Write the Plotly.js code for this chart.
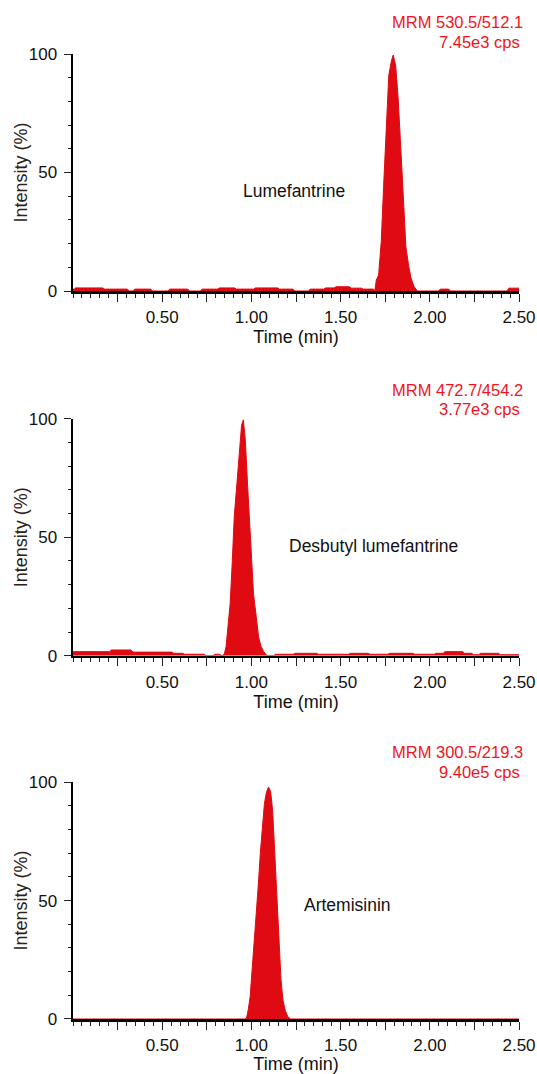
<!DOCTYPE html>
<html>
<head>
<meta charset="utf-8">
<script src="https://cdn.plot.ly/plotly-3.0.1.min.js"></script>
<style>html,body{margin:0;padding:0;background:#fff;}#chart{width:537px;height:1074px;}</style>
</head>
<body>
<div id="chart"></div>
<script>
// ---- Data (time in min, intensity in %) ----
var lumeTime = [0.000,0.012,0.013,0.167,0.177,0.305,0.315,0.336,0.346,0.436,0.446,0.532,0.542,0.643,0.653,0.714,0.724,
  0.810,0.820,0.906,0.916,1.012,1.022,1.147,1.156,1.233,1.243,1.320,1.330,1.406,1.416,1.464,1.474,1.550,1.560,1.617,1.627,1.684,1.692,
  1.700,1.713,1.728,1.741,1.757,1.770,1.784,1.795,1.809,1.822,1.838,1.853,1.866,1.882,1.895,1.910,1.930,
  2.049,2.059,2.106,2.116,2.433,2.443,2.500];
var lumeInt = [0.8,0.8,1.3,1.3,0.8,0.8,0,0,0.8,0.8,0,0,0.8,0.8,0,0,0.8,
  0.8,1.3,1.3,0.8,0.8,1.3,1.3,0.8,0.8,0,0,0.8,0.8,1.3,1.3,1.8,1.8,1.2,1.2,0.8,0.8,0,
  4.6,6.7,21,44,69,91,96.8,99.6,95,82,59.5,35.6,18.7,10.3,5.4,2.1,0,
  0,0.8,0.8,0,0,1.2,1.2];

var desTime = [0.000,0.205,0.215,0.325,0.335,0.555,0.565,0.615,0.625,0.735,0.745,0.785,0.795,0.815,0.840,
  0.849,0.858,0.868,0.881,0.893,0.904,0.916,0.926,0.935,0.945,0.955,0.966,0.978,0.989,1.003,1.012,1.027,1.040,1.054,1.069,1.088,
  1.125,1.135,1.235,1.245,1.365,1.375,1.545,1.555,1.655,1.665,1.765,1.775,1.905,1.915,2.025,2.035,2.075,2.085,2.185,2.195,2.235,2.245,2.275,2.285,2.385,2.395,2.500];
var desInt = [1.7,1.7,2.4,2.4,1.5,1.5,1.0,1.0,0.6,0.6,0,0,0.6,0.6,0,
  1.0,3.8,12,22,40,59,70,80,90,97.5,99.6,91,73,56,37.6,26,16.5,8,3.8,1.7,0,
  0,0.6,0.6,1.0,1.0,0.6,0.6,1.0,1.0,0.6,0.6,1.0,1.0,0.6,0.6,1.0,1.0,1.7,1.7,1.0,1.0,0.4,0.4,1.0,1.0,0.4,0.4];

var artTime = [0.000,0.965,0.973,0.982,0.993,1.004,1.016,1.027,1.039,1.050,1.062,1.073,1.085,1.096,1.108,1.119,1.131,1.143,1.154,1.166,1.177,1.189,1.204,1.220,2.500];
var artInt  = [0,0,0.5,3.8,9.4,20.7,30.6,44.6,57,70,81,91,96,98,96,88,70,50,30.6,16.5,8,3.8,1,0,0];

var compoundNames = ['Lumefantrine','Desbutyl lumefantrine','Artemisinin'];
var mrmLabels = ['MRM 530.5/512.1','MRM 472.7/454.2','MRM 300.5/219.3'];
var cpsLabels = ['7.45e3 cps','3.77e3 cps','9.40e5 cps'];
var xTickVals = [0.25,0.50,0.75,1.00,1.25,1.50,1.75,2.00,2.25,2.50];
var xTickText = ['','0.50','','1.00','','1.50','','2.00','','2.50'];
var yTickVals = [0,50,100];
var yTickText = ['0','50','100'];
var xTitle = 'Time (min)';
var yTitle = 'Intensity (%)';

// ---- Styling ----
var RED = '#e00a12';
var TXTRED = '#f0141e';
var FONT = 'Liberation Sans, Arial, sans-serif';

function trace(x, y, xa, ya) {
  return {x: x, y: y, xaxis: xa, yaxis: ya, type: 'scatter', mode: 'lines',
    line: {color: RED, width: 1, shape: 'linear'}, fill: 'tozeroy', fillcolor: RED,
    hoverinfo: 'skip', showlegend: false};
}
var data = [
  trace(lumeTime, lumeInt, 'x', 'y'),
  trace(desTime, desInt, 'x2', 'y2'),
  trace(artTime, artInt, 'x3', 'y3')
];

function xaxis(anchor) {
  return {anchor: anchor, range: [0, 2.5], tickmode: 'array', tickvals: xTickVals, ticktext: xTickText,
    ticks: 'outside', ticklen: 8, tickwidth: 1, tickcolor: '#222',
    minor: {tickmode: 'linear', tick0: 0, dtick: 0.05, ticks: 'outside', ticklen: 4, tickwidth: 1, tickcolor: '#222', showgrid: false},
    showline: true, linecolor: '#000', linewidth: 2.5, showgrid: false, zeroline: false,
    tickfont: {family: FONT, size: 17, color: '#111'}, ticklabelstandoff: 1,
    title: {text: xTitle, font: {family: FONT, size: 18, color: '#111'}, standoff: 3},
    automargin: false, fixedrange: true};
}
function yaxis(anchor, domain) {
  return {anchor: anchor, domain: domain, range: [0, 100], tickmode: 'array', tickvals: yTickVals, ticktext: yTickText,
    ticks: 'outside', ticklen: 7, tickwidth: 1, tickcolor: '#222',
    minor: {tickmode: 'linear', tick0: 0, dtick: 10, ticks: 'outside', ticklen: 3, tickwidth: 1, tickcolor: '#222', showgrid: false},
    showline: true, linecolor: '#000', linewidth: 2.5, showgrid: false, zeroline: false,
    tickfont: {family: FONT, size: 17, color: '#111'}, ticklabelstandoff: 3,
    automargin: false, fixedrange: true};
}

var annotations = [];
var nameX = [1.237, 1.682, 1.538];
var nameY = [42.2, 46.3, 48.2];
var mrmY = [1.033, 0.6518, 0.2767];
var cpsY = [1.0124, 0.6321, 0.2560];
var yCenter = [0.8772, 0.4992, 0.1227];
var yrefs = ['y', 'y2', 'y3'];
var xrefs = ['x', 'x2', 'x3'];
for (var i = 0; i < 3; i++) {
  annotations.push({xref: xrefs[i], yref: yrefs[i], x: nameX[i], y: nameY[i], text: compoundNames[i],
    showarrow: false, xanchor: 'center', yanchor: 'middle', font: {family: FONT, size: 17.5, color: '#111'}});
  annotations.push({xref: 'paper', yref: 'paper', x: 1, xshift: 6, y: mrmY[i], text: mrmLabels[i],
    showarrow: false, xanchor: 'right', yanchor: 'middle', font: {family: FONT, size: 16.5, color: TXTRED}});
  annotations.push({xref: 'paper', yref: 'paper', x: 1, xshift: 3, y: cpsY[i], text: cpsLabels[i],
    showarrow: false, xanchor: 'right', yanchor: 'middle', font: {family: FONT, size: 16.5, color: TXTRED}});
  annotations.push({xref: 'paper', yref: 'paper', x: 0, xshift: -52, y: yCenter[i], text: yTitle, textangle: -90,
    showarrow: false, xanchor: 'center', yanchor: 'middle', font: {family: FONT, size: 18, color: '#2a2218'}});
}

var layout = {
  width: 537, height: 1074,
  margin: {l: 73, r: 18, t: 54, b: 55},
  paper_bgcolor: '#fff', plot_bgcolor: '#fff',
  font: {family: FONT},
  xaxis: xaxis('y'), xaxis2: xaxis('y2'), xaxis3: xaxis('y3'),
  yaxis: yaxis('x', [0.7544, 1]),
  yaxis2: yaxis('x2', [0.3765, 0.6218]),
  yaxis3: yaxis('x3', [0, 0.2453]),
  annotations: annotations
};

Plotly.newPlot('chart', data, layout, {displayModeBar: false, staticPlot: true});
</script>
</body>
</html>
